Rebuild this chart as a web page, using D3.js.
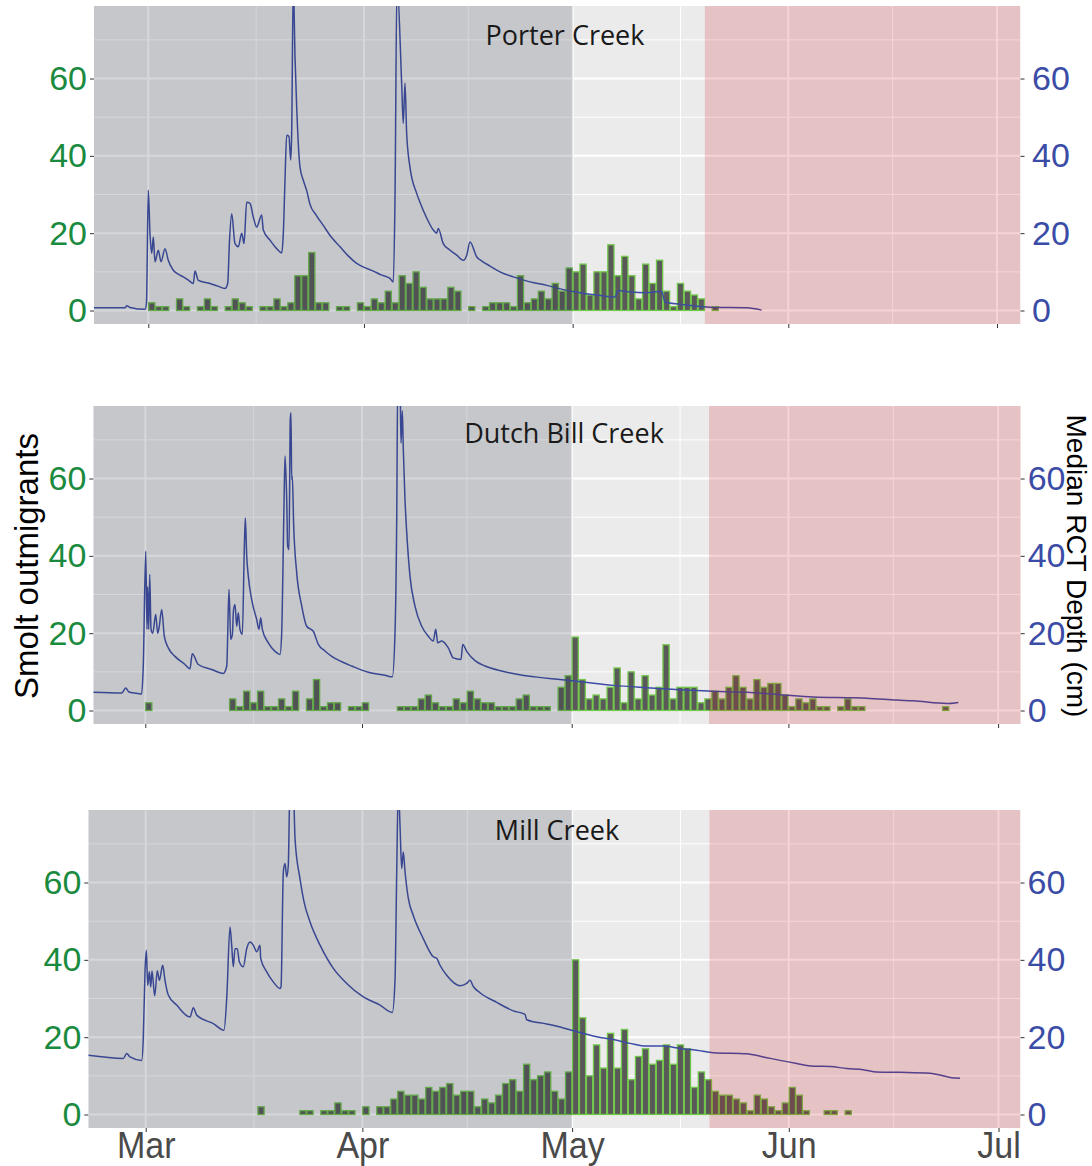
<!DOCTYPE html>
<html>
<head>
<meta charset="utf-8">
<script src="https://cdn.jsdelivr.net/npm/d3@7"></script>
<style>
  body { margin: 0; background: #fff; }
  svg { display: block; }
</style>
</head>
<body>
<svg id="chart" width="1092" height="1166"></svg>
<script>
// All days are counted from 1 March; a daily count covers [day, day + 1).
const monthDays = [0, 31, 61, 92, 122];
const monthLabels = ["Mar", "Apr", "May", "Jun", "Jul"];
const minorDays = [15.5, 46, 76.5, 107];
const yTicks = [0, 20, 40, 60];
const yMinor = [10, 30, 50, 70];
const creekNames = ["Porter Creek", "Dutch Bill Creek", "Mill Creek"];
const mayFirst = 61;
const lateSeasonStart = [80, 80.65, 80.65];

// daily smolt outmigrant counts: [day, count]
const porterSmolts = [[0,2],[1,1],[2,1],[4,3],[5,1],[7,1],[8,3],[9,1],[11,1],[12,3],[13,2],[14,1],[16,1],[17,1],[18,3],[19,1],[20,2],[21,9],[22,9],[23,15],[24,2],[25,2],[27,1],[28,1],[30,2],[31,1],[32,3],[33,2],[34,5],[35,2],[36,9],[37,7],[38,10],[39,6],[40,3],[41,3],[42,3],[43,6],[44,5],[46,1],[48,1],[49,2],[50,2],[51,2],[52,1],[53,9],[54,2],[55,3],[56,5],[57,3],[58,7],[59,5],[60,11],[61,10],[62,12],[63,4],[64,10],[65,10],[66,17],[67,9],[68,14],[69,9],[70,3],[71,12],[72,7],[73,13],[74,5],[75,1],[76,7],[77,5],[78,4],[79,3],[81,1]];

const dutchBillSmolts = [[0,2],[12,3],[13,1],[14,5],[15,2],[16,5],[17,1],[18,1],[19,3],[20,1],[21,5],[23,3],[24,8],[25,1],[26,2],[27,2],[29,1],[30,1],[31,2],[36,1],[37,1],[38,1],[39,3],[40,4],[41,2],[42,1],[43,1],[44,3],[45,2],[46,5],[47,3],[48,2],[49,2],[50,1],[51,1],[52,1],[53,3],[54,4],[55,1],[56,1],[57,1],[59,6],[60,9],[61,19],[62,8],[63,3],[64,4],[65,3],[66,6],[67,11],[68,2],[69,10],[70,3],[71,9],[72,4],[73,6],[74,17],[75,3],[76,6],[77,6],[78,6],[79,2],[80,3],[81,5],[82,3],[83,6],[84,9],[85,6],[86,3],[87,8],[88,6],[89,7],[90,7],[91,4],[92,1],[93,3],[94,2],[95,3],[96,1],[97,1],[99,1],[100,3],[101,1],[102,1],[114,1]];

const millSmolts = [[16,2],[22,1],[23,1],[25,1],[26,1],[27,3],[28,1],[29,1],[31,2],[33,2],[34,2],[35,4],[36,6],[37,5],[38,5],[39,4],[40,7],[41,6],[42,7],[43,8],[44,5],[45,6],[46,6],[47,2],[48,4],[49,3],[50,5],[51,8],[52,9],[53,6],[54,13],[55,9],[56,10],[57,11],[58,6],[59,4],[60,11],[61,40],[62,25],[63,10],[64,18],[65,12],[66,21],[67,12],[68,22],[69,9],[70,15],[71,17],[72,13],[73,14],[74,18],[75,13],[76,18],[77,17],[78,7],[79,11],[80,9],[81,6],[82,5],[83,5],[84,4],[85,3],[86,1],[87,5],[88,4],[89,2],[90,1],[91,3],[92,7],[93,5],[94,1],[97,1],[98,1],[100,1]];

// median RCT depth (cm): [day, depth]
const porterDepth = [[-7.81,0.7],[-3.35,0.7],[-3.1,1.2],[-2.63,0.8],[-0.47,0.3],[-0.26,2],[0,31.1],[0.24,20],[0.49,14.8],[0.72,19],[0.96,12.6],[1.44,15.6],[1.83,12.6],[2.4,16],[2.87,13],[3.59,10.4],[4.3,9.4],[5.03,8.7],[5.8,7.8],[6.47,7],[6.71,10.2],[7.19,7.8],[8.87,7],[10,6.3],[11.03,5.7],[11.41,7],[11.67,18],[11.99,25],[12.46,17.3],[12.94,16.5],[13.43,20],[13.76,17.3],[14.14,28],[14.62,27.7],[15.09,24.2],[15.58,21.6],[16.3,24.7],[16.53,20.8],[17.49,18.2],[18.46,16],[19.18,14.9],[19.41,20],[19.65,33.7],[19.89,45.3],[20.22,45],[20.47,38.9],[20.61,45.8],[20.84,85],[21.09,65.6],[21.33,52.7],[21.81,37],[22.28,33.7],[22.77,31],[23.24,27.5],[24.2,24.5],[25.15,22],[26.3,19],[27.56,16.5],[28.7,14.2],[29.96,12.2],[31.1,11.1],[32.34,10.2],[33.5,9.2],[34.74,8.3],[35.22,7.4],[35.46,28.5],[35.75,85],[36.42,58.7],[36.65,48.4],[36.9,58.8],[37.14,45.8],[37.62,37],[38.58,30.3],[39.05,28],[40.0,24],[40.97,20.8],[41.45,20],[41.68,21.2],[42.4,17.3],[43.3,15.7],[44.33,14.3],[45.28,13],[45.77,14.3],[46.24,17.7],[47.2,13.9],[48.1,12.6],[49.12,11.5],[50.55,10],[52.47,8.7],[54.87,7.4],[57.27,6.5],[59.65,5.4],[62.05,4.6],[64.45,4],[67.08,3.5],[67.56,5.2],[69.24,4.8],[71.64,4.6],[73.8,5],[74.27,2.2],[76.43,1.6],[78.83,1.1],[81.21,0.8],[86.01,0.7],[88.17,0.1]];

const dutchBillDepth = [[-7.44,4.7],[-3.38,4.5],[-2.8,5.8],[-2.33,4.8],[-1.0,4.4],[-0.52,4.3],[-0.29,11.5],[0.06,41.2],[0.24,21],[0.34,32],[0.49,21],[0.63,35.2],[0.82,21],[1.06,20],[1.49,24.8],[1.77,20],[1.96,21.3],[2.35,26.1],[2.72,19.2],[3.29,16.2],[4.25,14],[5.68,11.9],[6.39,10.8],[6.72,14.7],[7.58,11.9],[9.5,10.6],[11.16,9.6],[11.65,11.5],[11.97,31.3],[12.22,18.4],[12.45,19.6],[12.62,26],[12.83,27.4],[13.08,21.8],[13.3,25.3],[13.55,21],[13.88,19.7],[14.16,41.6],[14.31,49.8],[14.51,39.9],[14.74,34.7],[15.22,28.7],[15.94,23.5],[16.27,21],[16.51,24],[16.74,21],[17.6,17.5],[18.56,15.3],[19.27,14.5],[19.51,20],[19.84,52.8],[19.99,65.8],[20.23,54.6],[20.37,42.5],[20.56,41.6],[20.74,75.3],[20.84,77],[20.94,59.8],[21.03,60.6],[21.23,47.7],[21.66,35.6],[22.38,27],[23.09,21.8],[24.03,20.5],[24.75,17.1],[25.7,15.4],[26.67,14],[28.1,12.6],[29.53,11.5],[31.9,9.9],[34.29,9.1],[35.34,8.7],[35.72,20],[35.97,50],[36.11,85],[36.44,85],[36.58,69.2],[36.77,77.5],[36.91,67.5],[37.15,54.6],[37.4,46],[37.87,34.7],[38.58,27],[39.54,21.8],[40.49,19.2],[41.2,18],[41.55,21],[41.83,17.5],[42.4,18],[43.35,16.2],[44.06,13.6],[45.16,13.2],[45.41,17.1],[45.98,15.3],[47.17,12.9],[48.6,11.5],[50.99,10.2],[53.36,9.3],[55.75,8.7],[58.14,8.2],[60.52,7.8],[62.9,7.3],[66.95,6.5],[71.73,5.9],[76.5,5.4],[81.26,5],[86.04,4.7],[90.8,4.1],[95.57,3.5],[100.34,3.3],[103.2,3.2],[107.5,2.7],[109.87,2.5],[114.65,1.8],[116.31,2.1]];

const millDepth = [[-8.21,15.3],[-3.2,14.5],[-2.72,15.8],[-2.25,14.9],[-0.57,14],[-0.34,20],[-0.1,36.9],[0.09,42.5],[0.29,33.4],[0.52,36.9],[0.72,33],[0.9,37.1],[1.29,30.7],[1.66,37.2],[1.95,34.7],[2.43,38.6],[2.76,34.7],[3.23,30.9],[4.43,28.3],[6.34,25.2],[6.81,27.6],[7.3,25.7],[9.67,23.5],[11.2,21.8],[11.59,30],[12.06,48.5],[12.3,43.8],[12.53,38.2],[12.78,42.9],[13.1,42.9],[13.39,39.5],[13.96,38.2],[14.45,42.9],[14.92,44.6],[15.39,43.8],[15.88,42.1],[16.35,43.8],[16.45,40.4],[17.31,36.9],[18.25,34.3],[19.21,32.6],[19.36,33],[19.69,62.8],[19.93,64.9],[20.17,61.5],[20.4,64.5],[20.64,85],[21.12,85],[21.36,71.4],[22.07,61],[22.65,55],[23.51,49.8],[24.94,43.8],[26.84,37.8],[28.76,33.9],[31.13,30.4],[33.52,28.3],[35.28,26.4],[35.67,35],[35.91,62.8],[36.14,85],[36.38,74.8],[36.62,63.6],[36.85,67.9],[37.1,62.8],[37.57,55.9],[38.28,51.5],[39.71,45.5],[41.14,40.8],[41.63,40.4],[42.1,38.6],[43.06,36],[44.96,33.3],[45.92,33.9],[46.39,34.7],[46.87,33.1],[47.83,31.5],[50.21,29],[52.59,26.8],[54.26,25.9],[54.51,24.5],[57.37,23.4],[59.74,22.4],[62.13,21.2],[64.52,20.1],[66.9,19.4],[69.28,18.4],[71.67,17.7],[74.05,17.7],[76.44,17.1],[78.83,16.6],[81.2,16],[85.98,15.7],[88.36,14.9],[90.74,14],[93.13,13.2],[95.51,12.5],[97.9,12.4],[100.29,11.9],[102.66,11.6],[104.58,11],[107.91,10.9],[112.2,10.7],[115.06,9.6],[116.49,9.4]];

const smoltSeries = [porterSmolts, dutchBillSmolts, millSmolts];
const depthSeries = [porterDepth, dutchBillDepth, millDepth];

// panel frames on the page
const frames = [
  { left: 94,   right: 1020.5, top: 6,   xMar: 148.3, xJul: 997.0, titleX: 565, titleY: 45,  rightPad: 7.5 },
  { left: 93.3, right: 1020.7, top: 406, xMar: 145.3, xJul: 998.1, titleX: 564, titleY: 443, rightPad: 3 },
  { left: 88.3, right: 1020.5, top: 810, xMar: 145.7, xJul: 998.5, titleX: 557, titleY: 840, rightPad: 3 }
];
const panelHeight = 318;

const svg = d3.select("#chart");

frames.forEach((f, i) => {
  const x = d3.scaleLinear().domain([monthDays[0], monthDays[4]]).range([f.xMar, f.xJul]);
  const y = d3.scaleLinear().domain([-3.49, 78.76]).range([f.top + panelHeight, f.top]);
  const w = f.right - f.left;

  const clipId = "clip" + i;
  svg.append("clipPath").attr("id", clipId)
    .append("rect").attr("x", f.left).attr("y", f.top).attr("width", w).attr("height", panelHeight);

  const g = svg.append("g").attr("clip-path", `url(#${clipId})`);

  g.append("rect").attr("x", f.left).attr("y", f.top).attr("width", w).attr("height", panelHeight)
    .attr("fill", "#ebebeb");

  // grid
  g.selectAll(".hminor").data(yMinor).join("line")
    .attr("x1", f.left).attr("x2", f.right).attr("y1", d => y(d)).attr("y2", d => y(d))
    .attr("stroke", "#fff").attr("stroke-width", 1);
  g.selectAll(".vminor").data(minorDays).join("line")
    .attr("y1", f.top).attr("y2", f.top + panelHeight).attr("x1", d => x(d)).attr("x2", d => x(d))
    .attr("stroke", "#fff").attr("stroke-width", 1);
  g.selectAll(".hmajor").data(yTicks).join("line")
    .attr("x1", f.left).attr("x2", f.right).attr("y1", d => y(d)).attr("y2", d => y(d))
    .attr("stroke", "#fff").attr("stroke-width", 2);
  g.selectAll(".vmajor").data(monthDays).join("line")
    .attr("y1", f.top).attr("y2", f.top + panelHeight).attr("x1", d => x(d)).attr("x2", d => x(d))
    .attr("stroke", "#fff").attr("stroke-width", 2);

  // daily counts
  g.selectAll(".bar").data(smoltSeries[i]).join("rect")
    .attr("x", d => x(d[0]) + 0.4)
    .attr("width", d => x(d[0] + 1) - x(d[0]) - 0.8)
    .attr("y", d => y(d[1]))
    .attr("height", d => y(0) - y(d[1]))
    .attr("fill", "#595959")
    .attr("stroke", "#72c64c")
    .attr("stroke-width", 1.3);

  // depth trace
  const line = d3.line().x(d => x(d[0])).y(d => y(d[1])).curve(d3.curveMonotoneX);
  g.append("path").datum(depthSeries[i]).attr("d", line)
    .attr("fill", "none").attr("stroke", "#3c4ca5").attr("stroke-width", 1.5)
    .attr("stroke-linejoin", "round");

  // season shading
  g.append("rect").attr("x", f.left).attr("y", f.top)
    .attr("width", x(mayFirst) - f.left).attr("height", panelHeight)
    .attr("fill", "rgb(45,55,70)").attr("fill-opacity", 0.2);
  g.append("rect").attr("x", x(lateSeasonStart[i])).attr("y", f.top)
    .attr("width", f.right - x(lateSeasonStart[i])).attr("height", panelHeight)
    .attr("fill", "rgb(205,10,20)").attr("fill-opacity", 0.18);

  // creek title
  svg.append("text").attr("x", f.titleX).attr("y", f.titleY)
    .attr("text-anchor", "middle")
    .attr("font-family", "'Open Sans', sans-serif").attr("font-size", 27)
    .attr("fill", "#1a1a1a").text(creekNames[i]);

  // axes
  const left = svg.append("g").attr("transform", `translate(${f.left},0)`)
    .call(d3.axisLeft(y).tickValues(yTicks).tickSize(4).tickPadding(3));
  left.select(".domain").remove();
  left.selectAll("line").attr("stroke", "#333");
  left.selectAll("text").attr("font-family", "'Liberation Sans', Arial, sans-serif")
    .attr("font-size", 34).attr("fill", "#1a8a3e");

  const right = svg.append("g").attr("transform", `translate(${f.right},0)`)
    .call(d3.axisRight(y).tickValues(yTicks).tickSize(4).tickPadding(f.rightPad));
  right.select(".domain").remove();
  right.selectAll("line").attr("stroke", "#333");
  right.selectAll("text").attr("font-family", "'Liberation Sans', Arial, sans-serif")
    .attr("font-size", 34).attr("fill", "#3a4ca6");

  const bottom = svg.append("g").attr("transform", `translate(0,${f.top + panelHeight})`)
    .call(d3.axisBottom(x).tickValues(monthDays).tickSize(4).tickPadding(0)
      .tickFormat((d, k) => i === 2 ? monthLabels[k] : ""));
  bottom.select(".domain").remove();
  bottom.selectAll("line").attr("stroke", "#333");
  bottom.selectAll("text").attr("font-family", "'Liberation Sans', Arial, sans-serif")
    .attr("font-size", 37).attr("fill", "#4a4a4a")
    .attr("transform", "scale(0.92,1)");
});

// axis titles
svg.append("text")
  .attr("transform", "translate(38,566) rotate(-90)")
  .attr("text-anchor", "middle")
  .attr("font-family", "'Liberation Sans', Arial, sans-serif").attr("font-size", 33)
  .attr("fill", "#000").text("Smolt outmigrants");

svg.append("text")
  .attr("transform", "translate(1067,566) rotate(90)")
  .attr("text-anchor", "middle")
  .attr("font-family", "'Liberation Sans', Arial, sans-serif").attr("font-size", 28)
  .attr("fill", "#000").text("Median RCT Depth (cm)");
</script>
</body>
</html>
